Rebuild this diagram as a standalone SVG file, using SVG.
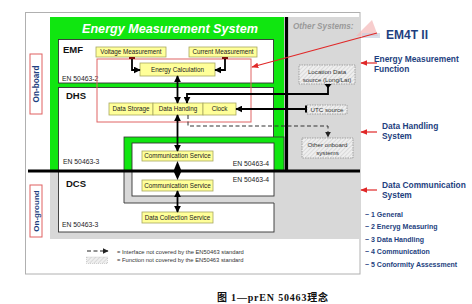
<svg xmlns="http://www.w3.org/2000/svg" width="472" height="304" viewBox="0 0 472 304">
<defs>
<pattern id="hatch" width="3" height="3" patternUnits="userSpaceOnUse" patternTransform="rotate(45)">
<rect width="3" height="3" fill="#efefef"/>
<line x1="0" y1="0" x2="0" y2="3" stroke="#c6c6c6" stroke-width="1"/>
</pattern>
<marker id="ah" viewBox="0 0 10 10" refX="9" refY="5" markerUnits="userSpaceOnUse" markerWidth="7" markerHeight="7" orient="auto-start-reverse"><path d="M0,0 L10,5 L0,10 z" fill="#000"/></marker>
<marker id="ahs" viewBox="0 0 10 10" refX="9" refY="5" markerUnits="userSpaceOnUse" markerWidth="6" markerHeight="6" orient="auto-start-reverse"><path d="M0,0 L10,5 L0,10 z" fill="#222"/></marker>
<marker id="ar" viewBox="0 0 10 10" refX="9" refY="5" markerUnits="userSpaceOnUse" markerWidth="7" markerHeight="7" orient="auto"><path d="M0,1 L10,5 L0,9 z" fill="#e02828"/></marker>
<style>
.sans{font-family:"Liberation Sans",Arial,sans-serif}
.yb{fill:#ffff99;stroke:#a8a860;stroke-width:0.8}
.bt{font-family:"Liberation Sans",Arial,sans-serif;font-size:6.3px;fill:#222;text-anchor:middle}
.wb{fill:#fff;stroke:#333;stroke-width:0.9}
.hd{font-family:"Liberation Sans",Arial,sans-serif;font-weight:bold;font-size:9.5px;fill:#111}
.en{font-family:"Liberation Sans",Arial,sans-serif;font-size:6.8px;fill:#222}
.hb{fill:url(#hatch);stroke:#8a8a8a;stroke-width:0.7;stroke-dasharray:1.5 1}
.ht{font-family:"Liberation Sans",Arial,sans-serif;font-size:6.2px;fill:#333;text-anchor:middle}
.bl{font-family:"Liberation Sans",Arial,sans-serif;font-weight:bold;fill:#1e3f80}
.ln{fill:none;stroke:#000;stroke-width:1.8}
.rd{fill:none;stroke:#e02828;stroke-width:1.2}
</style>
</defs>
<rect width="472" height="304" fill="#fff"/>

<g id="frame">
<rect x="25.5" y="12.5" width="334.5" height="261.5" fill="#fff" stroke="#b0b0b0" stroke-width="1"/>
<rect x="50" y="17" width="310" height="222" fill="#d8d8d8"/>
<rect x="50" y="17" width="234" height="154" fill="#10e610"/>
<text x="82" y="33" font-family="Liberation Sans,Arial,sans-serif" font-weight="bold" font-style="italic" font-size="12.6" fill="#fff" textLength="176">Energy Measurement System</text>
<text x="293" y="29" font-family="Liberation Sans,Arial,sans-serif" font-weight="bold" font-style="italic" font-size="8.2" fill="#9a9a9a">Other Systems:</text>
</g>

<g id="emf">
<rect class="wb" x="58.5" y="39.5" width="215" height="43.5"/>
<text class="hd" x="63" y="53">EMF</text>
<text class="en" x="62" y="81">EN 50463-2</text>
</g>

<g id="dhs">
<rect class="wb" x="58.5" y="87.5" width="215" height="83.5"/>
<text class="hd" x="66" y="99">DHS</text>
<text class="en" x="63" y="164">EN 50463-3</text>
</g>

<g id="comm-onboard">
<rect x="124" y="137" width="160" height="34" fill="#10e610" stroke="#333" stroke-width="0.8"/>
<rect class="wb" x="132" y="143" width="142" height="28"/>
<text class="en" x="269" y="165.5" text-anchor="end">EN 50463-4</text>
</g>

<g id="dcs">
<rect class="wb" x="58.5" y="171" width="215.5" height="61"/>
<text class="hd" x="66" y="187">DCS</text>
<text class="en" x="62" y="227">EN 50463-3</text>
</g>

<g id="comm-onground">
<rect x="124" y="171" width="160" height="32" fill="#d8d8d8"/>
<path d="M124,171 V203 H274" fill="none" stroke="#333" stroke-width="0.9"/>
<rect class="wb" x="132" y="171" width="142" height="25"/>
<text class="en" x="269" y="182" text-anchor="end">EN 50463-4</text>
</g>

<g id="bus-lines">
<line x1="28" y1="171" x2="360" y2="171" stroke="#000" stroke-width="3.2"/>
<line x1="286.5" y1="17" x2="286.5" y2="171" stroke="#000" stroke-width="3.2"/>
</g>

<g id="emf-function">
<rect x="97" y="59" width="154" height="63" fill="none" stroke="#e06464" stroke-width="1"/>
</g>

<g id="voltage-measurement">
<rect class="yb" x="96" y="47" width="70" height="10"/>
<text class="bt" x="131" y="54.3">Voltage Measurement</text>
</g>
<g id="current-measurement">
<rect class="yb" x="189" y="47" width="68" height="10"/>
<text class="bt" x="223" y="54.3">Current Measurement</text>
</g>
<g id="energy-calculation">
<rect class="yb" x="140" y="63" width="75" height="13"/>
<text class="bt" x="177.5" y="71.8">Energy Calculation</text>
</g>
<g id="data-storage">
<rect class="yb" x="109" y="103" width="44" height="12"/>
<text class="bt" x="131" y="111.2">Data Storage</text>
</g>
<g id="data-handling">
<rect class="yb" x="153" y="103" width="50" height="12"/>
<text class="bt" x="178" y="111.2">Data Handing</text>
</g>
<g id="clock">
<rect class="yb" x="203" y="103" width="33" height="12"/>
<text class="bt" x="219.5" y="111.2">Clock</text>
</g>
<g id="comm-service-1">
<rect class="yb" x="142" y="151" width="71" height="10"/>
<text class="bt" x="177.5" y="158.3">Communication Service</text>
</g>
<g id="comm-service-2">
<rect class="yb" x="142" y="180" width="71" height="11"/>
<text class="bt" x="177.5" y="187.8">Communication Service</text>
</g>
<g id="data-collection">
<rect class="yb" x="142" y="212" width="71" height="11"/>
<text class="bt" x="177.5" y="219.8">Data Collection Service</text>
</g>

<g id="location-source">
<rect class="hb" x="299" y="65" width="56" height="19"/>
<text class="ht" x="327" y="74">Location Data</text>
<text class="ht" x="327" y="81.5">source (Long/Lat)</text>
</g>
<g id="utc-source">
<rect class="hb" x="307" y="105" width="40" height="9"/>
<text class="ht" x="327" y="111.8">UTC source</text>
</g>
<g id="other-onboard">
<rect class="hb" x="302" y="138" width="51" height="20"/>
<text class="ht" x="327.5" y="147">Other onboard</text>
<text class="ht" x="327.5" y="155">systems</text>
</g>

<g id="connectors">
<path class="ln" d="M132,58 V70 H140" marker-end="url(#ah)"/>
<path class="ln" d="M225,58 V70 H215" marker-end="url(#ah)"/>
<line x1="129" y1="58" x2="135" y2="58" stroke="#7a1010" stroke-width="2"/>
<line x1="222" y1="58" x2="228" y2="58" stroke="#7a1010" stroke-width="2"/>
<line class="ln" x1="177.5" y1="76" x2="177.5" y2="103" marker-start="url(#ah)" marker-end="url(#ah)"/>
<path class="ln" d="M328,86 V94 H187 V103" marker-end="url(#ah)"/>
<polygon points="324.5,84 331.5,84 328,88.5" fill="#000"/>
<path class="ln" d="M306,109 H236" marker-end="url(#ah)"/>
<line x1="306" y1="105.5" x2="306" y2="112.5" stroke="#000" stroke-width="2"/>
<path d="M188,115 V126 H328 V137" fill="none" stroke="#333" stroke-width="1" stroke-dasharray="4 2.5" marker-end="url(#ahs)"/>
<line class="ln" x1="177.5" y1="115" x2="177.5" y2="151" marker-start="url(#ah)" marker-end="url(#ah)"/>
<polygon points="177.5,161 181.5,171 177.5,180 173.5,171" fill="#000"/>
<line class="ln" x1="177.5" y1="191" x2="177.5" y2="212" marker-start="url(#ah)" marker-end="url(#ah)"/>
</g>

<g id="side-labels">
<rect x="30" y="54" width="12" height="60" fill="#fff" stroke="#e06060" stroke-width="1"/>
<text class="bl" x="0" y="0" font-size="8.2" text-anchor="middle" transform="translate(39,84) rotate(-90)">On-board</text>
<rect x="30" y="185" width="12" height="52" fill="#fff" stroke="#e06060" stroke-width="1"/>
<text class="bl" x="0" y="0" font-size="8" text-anchor="middle" transform="translate(39,211) rotate(-90)">On-ground</text>
</g>

<g id="annotations">
<polygon points="356,36 372,20 378,36" fill="#f4b8b8" opacity="0.7"/>
<rect x="362" y="33" width="18" height="5" fill="#c8d0e0" opacity="0.7"/>
<text class="bl" x="386" y="39" font-size="12">EM4T II</text>
<line class="rd" x1="377" y1="33" x2="252" y2="67" marker-end="url(#ar)"/>
<line class="rd" x1="377" y1="63" x2="361" y2="63" marker-end="url(#ar)"/>
<line class="rd" x1="377" y1="132" x2="361" y2="132" marker-end="url(#ar)"/>
<line class="rd" x1="377" y1="190" x2="361" y2="190" marker-end="url(#ar)"/>
<text class="bl" x="374" y="62" font-size="8.4">Energy Measurement</text>
<text class="bl" x="374" y="72" font-size="8.4">Function</text>
<text class="bl" x="382" y="129" font-size="8.4">Data Handling</text>
<text class="bl" x="382" y="139" font-size="8.4">System</text>
<text class="bl" x="382" y="188" font-size="8.4">Data Communication</text>
<text class="bl" x="382" y="198" font-size="8.4">System</text>
<text class="bl" x="365" y="216.5" font-size="7">~ 1 General</text>
<text class="bl" x="365" y="229" font-size="7">~ 2 Eneryg Measuring</text>
<text class="bl" x="365" y="241.5" font-size="7">~ 3 Data Handling</text>
<text class="bl" x="365" y="254" font-size="7">~ 4 Communication</text>
<text class="bl" x="365" y="266.5" font-size="7">~ 5 Conformity Assessment</text>
</g>

<g id="legend">
<path d="M87,251 H108" fill="none" stroke="#222" stroke-width="1" stroke-dasharray="4 2.5" marker-end="url(#ahs)"/>
<rect x="86.5" y="257" width="21" height="6.5" fill="url(#hatch)" stroke="#aaa" stroke-width="0.5" stroke-dasharray="1 1"/>
<text class="sans" x="117" y="253.5" font-size="5.8" fill="#333">= Interface not covered by the EN50463 standard</text>
<text class="sans" x="117" y="261.5" font-size="5.8" fill="#333">= Function not covered by the EN50463 standard</text>
</g>

<g id="caption">
<text x="217" y="301" font-family="Liberation Serif,Noto Sans CJK SC,serif" font-weight="bold" font-size="10" fill="#111" textLength="111">图 1—prEN 50463理念</text>
</g>
</svg>
